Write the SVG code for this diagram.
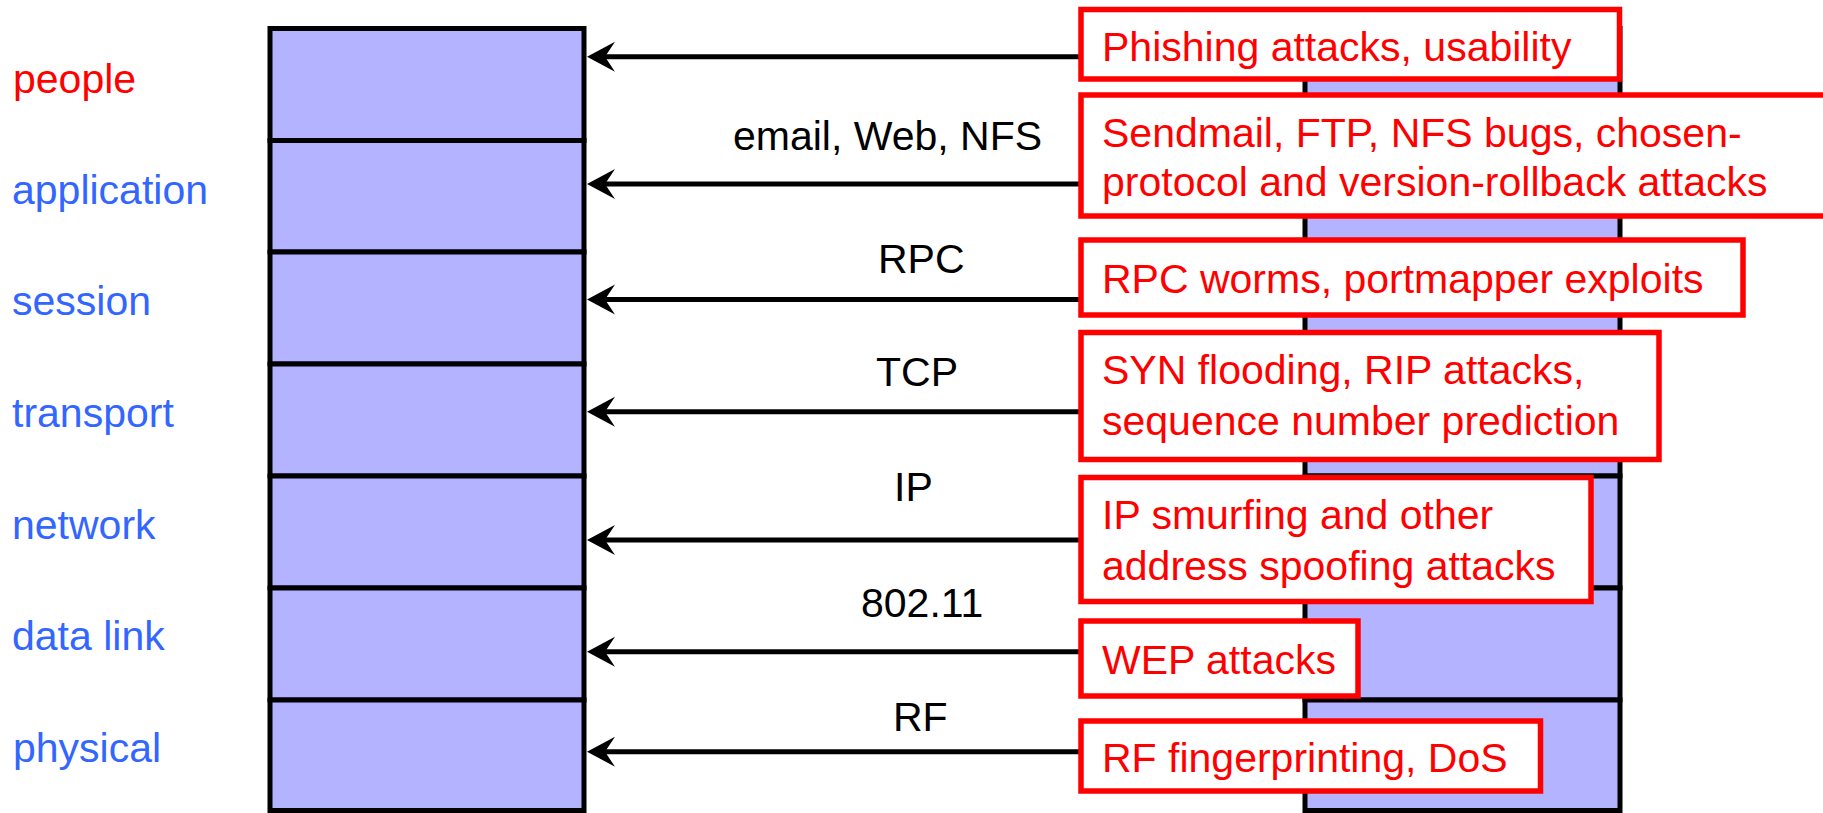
<svg xmlns="http://www.w3.org/2000/svg" width="1823" height="813" viewBox="0 0 1823 813">
<style>
.layer{fill:#B3B3FF;stroke:#000;stroke-width:5}
.lbl{font-family:"Liberation Sans",Arial,sans-serif;font-size:41px}
.red{fill:#FF0000}
.blue{fill:#3366FF}
.blk{fill:#000}
.atk{fill:#fff;stroke:#FF0000;stroke-width:5.5}
.conn{stroke:#000;stroke-width:5;fill:none}
</style>
<defs>
<marker id="ah" markerUnits="userSpaceOnUse" markerWidth="30" markerHeight="32" refX="20" refY="16" orient="auto" overflow="visible">
<path d="M0,1 L28,16 L0,31 L10,16 Z" fill="#000"/>
</marker>
</defs>
<g id="left-stack">
<rect class="layer" x="270" y="28.5" width="314" height="112"/>
<rect class="layer" x="270" y="140.5" width="314" height="111.5"/>
<rect class="layer" x="270" y="252" width="314" height="112"/>
<rect class="layer" x="270" y="364" width="314" height="112"/>
<rect class="layer" x="270" y="476" width="314" height="112"/>
<rect class="layer" x="270" y="588" width="314" height="112"/>
<rect class="layer" x="270" y="700" width="314" height="110.5"/>
</g>
<g id="right-stack">
<rect class="layer" x="1305" y="28.5" width="315" height="112"/>
<rect class="layer" x="1305" y="140.5" width="315" height="111.5"/>
<rect class="layer" x="1305" y="252" width="315" height="112"/>
<rect class="layer" x="1305" y="364" width="315" height="112"/>
<rect class="layer" x="1305" y="476" width="315" height="112"/>
<rect class="layer" x="1305" y="588" width="315" height="112"/>
<rect class="layer" x="1305" y="700" width="315" height="110.5"/>
</g>
<g id="connectors">
<line class="conn" x1="1081" y1="56.7" x2="595" y2="56.7" marker-end="url(#ah)"/>
<line class="conn" x1="1081" y1="184" x2="595" y2="184" marker-end="url(#ah)"/>
<line class="conn" x1="1081" y1="299.5" x2="595" y2="299.5" marker-end="url(#ah)"/>
<line class="conn" x1="1081" y1="411.7" x2="595" y2="411.7" marker-end="url(#ah)"/>
<line class="conn" x1="1081" y1="540" x2="595" y2="540" marker-end="url(#ah)"/>
<line class="conn" x1="1081" y1="651.7" x2="595" y2="651.7" marker-end="url(#ah)"/>
<line class="conn" x1="1081" y1="751.7" x2="595" y2="751.7" marker-end="url(#ah)"/>
</g>
<g id="layer-labels">
<text class="lbl red" x="13" y="92.5">people</text>
<text class="lbl blue" x="12" y="203.5">application</text>
<text class="lbl blue" x="12" y="315">session</text>
<text class="lbl blue" x="12" y="427">transport</text>
<text class="lbl blue" x="12" y="539">network</text>
<text class="lbl blue" x="12" y="650">data link</text>
<text class="lbl blue" x="13" y="762">physical</text>
</g>
<g id="protocol-labels">
<text class="lbl blk" x="733" y="150">email, Web, NFS</text>
<text class="lbl blk" x="878" y="273">RPC</text>
<text class="lbl blk" x="876" y="386">TCP</text>
<text class="lbl blk" x="894" y="501">IP</text>
<text class="lbl blk" x="861" y="617">802.11</text>
<text class="lbl blk" x="893" y="731">RF</text>
</g>
<g id="attack-people">
<rect class="atk" x="1081" y="9.5" width="538.5" height="69.5"/>
<text class="lbl red" x="1102" y="61">Phishing attacks, usability</text>
</g>
<g id="attack-application">
<rect class="atk" x="1081" y="95" width="760" height="121"/>
<text class="lbl red" x="1102" y="146.5">Sendmail, FTP, NFS bugs, chosen-</text>
<text class="lbl red" x="1102" y="195.5">protocol and version-rollback attacks</text>
</g>
<g id="attack-session">
<rect class="atk" x="1081" y="240" width="662" height="75"/>
<text class="lbl red" x="1102" y="292.5">RPC worms, portmapper exploits</text>
</g>
<g id="attack-transport">
<rect class="atk" x="1081" y="332.5" width="578" height="127"/>
<text class="lbl red" x="1102" y="383.5">SYN flooding, RIP attacks,</text>
<text class="lbl red" x="1102" y="434.5">sequence number prediction</text>
</g>
<g id="attack-network">
<rect class="atk" x="1081" y="477.5" width="510" height="124"/>
<text class="lbl red" x="1102" y="528.5">IP smurfing and other</text>
<text class="lbl red" x="1102" y="579.5">address spoofing attacks</text>
</g>
<g id="attack-datalink">
<rect class="atk" x="1081" y="621" width="277" height="75"/>
<text class="lbl red" x="1102" y="673.5">WEP attacks</text>
</g>
<g id="attack-physical">
<rect class="atk" x="1081" y="721" width="459.5" height="70"/>
<text class="lbl red" x="1102" y="771.5">RF fingerprinting, DoS</text>
</g>
</svg>
